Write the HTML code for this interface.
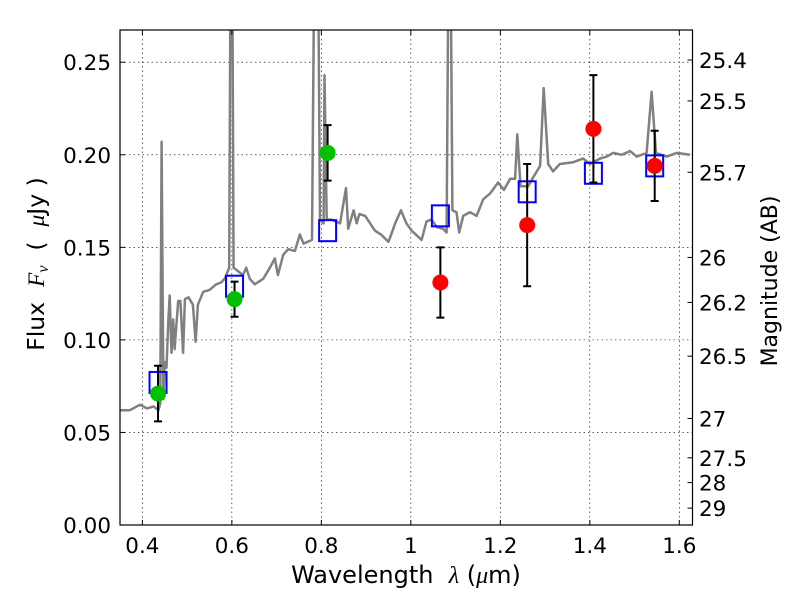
<!DOCTYPE html>
<html><head><meta charset="utf-8"><style>
body{margin:0;background:#fff;}
svg text{font-family:"DejaVu Sans","Liberation Sans",sans-serif;fill:#000;white-space:pre;}
</style></head><body>
<svg id="chart" width="800" height="600" xmlns="http://www.w3.org/2000/svg" xml:space="preserve">
<defs><clipPath id="clip"><rect x="120" y="30" width="572.5" height="495"/></clipPath></defs>
<g id="grid"></g>
<g id="spec" clip-path="url(#clip)"></g>
<g id="marks" clip-path="url(#clip)"></g>
<rect x="120" y="30" width="572.5" height="495" fill="none" stroke="#000" stroke-width="1.2"/>
<g id="axes"></g>
<text x="406" y="583" font-size="24" text-anchor="middle">Wavelength  <tspan font-style="italic" font-family="Liberation Serif, serif">λ</tspan> (<tspan font-style="italic" font-family="Liberation Serif, serif">μ</tspan>m)</text>
<text transform="translate(44,264) rotate(-90)" font-size="23.5" text-anchor="middle">Flux  <tspan font-style="italic" font-family="Liberation Serif, serif">F</tspan><tspan font-style="italic" font-size="16" dy="4" font-family="Liberation Serif, serif">ν</tspan><tspan dy="-4">  (  </tspan><tspan font-style="italic" font-family="Liberation Serif, serif">μ</tspan>Jy )</text>
<text transform="translate(777,281) rotate(-90)" font-size="22" text-anchor="middle">Magnitude (AB)</text>
</svg>
<script>
const specLam=[0.35,0.372,0.395,0.41,0.425,0.436,0.44,0.443,0.447,0.45,0.454,0.458,0.461,0.465,0.469,0.472,0.48,0.485,0.491,0.495,0.503,0.513,0.519,0.524,0.536,0.55,0.565,0.576,0.584,0.594,0.597,0.601,0.604,0.625,0.632,0.64,0.651,0.67,0.685,0.696,0.703,0.715,0.726,0.741,0.752,0.76,0.779,0.784,0.793,0.797,0.805,0.807,0.812,0.823,0.842,0.855,0.86,0.872,0.879,0.885,0.898,0.92,0.933,0.95,0.965,0.978,0.99,1.002,1.024,1.035,1.046,1.058,1.072,1.08,1.084,1.089,1.093,1.102,1.108,1.117,1.132,1.147,1.162,1.177,1.195,1.208,1.222,1.233,1.238,1.245,1.262,1.274,1.289,1.297,1.307,1.318,1.333,1.363,1.385,1.4,1.423,1.438,1.452,1.471,1.49,1.505,1.527,1.538,1.548,1.572,1.594,1.624];
const specFlux=[0.062,0.062,0.065,0.063,0.064,0.062,0.066,0.207,0.068,0.088,0.085,0.11,0.124,0.093,0.111,0.095,0.121,0.121,0.093,0.122,0.123,0.119,0.099,0.119,0.126,0.127,0.13,0.131,0.133,0.139,0.3,0.3,0.139,0.135,0.139,0.133,0.13,0.133,0.139,0.144,0.135,0.146,0.149,0.148,0.157,0.152,0.154,0.3,0.3,0.165,0.163,0.243,0.165,0.165,0.163,0.182,0.16,0.17,0.163,0.168,0.167,0.159,0.157,0.153,0.163,0.17,0.163,0.159,0.154,0.164,0.165,0.161,0.16,0.158,0.3,0.3,0.17,0.169,0.158,0.167,0.169,0.167,0.176,0.179,0.185,0.181,0.187,0.187,0.211,0.183,0.183,0.188,0.194,0.236,0.195,0.191,0.195,0.196,0.198,0.195,0.198,0.199,0.201,0.2,0.202,0.199,0.201,0.234,0.201,0.199,0.201,0.2];
const greenLam=[0.435,0.606,0.814];
const greenFlux=[0.071,0.122,0.201];
const greenErr=[0.015,0.0095,0.015];
const redLam=[1.066,1.26,1.408,1.545];
const redFlux=[0.131,0.162,0.214,0.194];
const redErr=[0.019,0.033,0.029,0.019];
const boxLam=[0.435,0.606,0.814,1.066,1.26,1.408,1.545];
const boxFlux=[0.077,0.129,0.159,0.167,0.180,0.190,0.194];
const xTicks=[0.4,0.6,0.8,1.0,1.2,1.4,1.6];
const xTickLabels=["0.4","0.6","0.8","1","1.2","1.4","1.6"];
const yTicks=[0,0.05,0.1,0.15,0.2,0.25];
const yTickLabels=["0.00","0.05","0.10","0.15","0.20","0.25"];
const magTicks=[25.4,25.5,25.7,26,26.2,26.5,27,27.5,28,29];
const magLabels=["25.4","25.5","25.7","26","26.2","26.5","27","27.5","28","29"];

const X0=120,X1=692.5,Y0=525,Y1=30,LMIN=0.35,LMAX=1.6295,FMIN=0,FMAX=0.2674;
const sx=v=>X0+(v-LMIN)/(LMAX-LMIN)*(X1-X0);
const sy=v=>Y0-(v-FMIN)/(FMAX-FMIN)*(Y0-Y1);
const NS="http://www.w3.org/2000/svg";
function mk(tag,attrs,parent){const e=document.createElementNS(NS,tag);for(const k in attrs)e.setAttribute(k,attrs[k]);parent.appendChild(e);return e;}
const grid=document.getElementById('grid'),axes=document.getElementById('axes'),spec=document.getElementById('spec'),marks=document.getElementById('marks');

xTicks.forEach((t,i)=>{const x=sx(t);
 const g=mk('line',{x1:x,x2:x,y1:Y1,y2:Y0,stroke:'#000','stroke-width':0.6,'stroke-dasharray':'1.5,3'},grid);
 
 
 const a=mk('line',{x1:x,x2:x,y1:Y0,y2:Y0-5,stroke:'#000'},axes);
 
 
 const b=mk('line',{x1:x,x2:x,y1:Y1,y2:Y1+5,stroke:'#000'},axes);
 
 
 const l=mk('text',{x:x,y:553,'font-size':21.5,'text-anchor':'middle'},axes);l.textContent=xTickLabels[i];
 
 
});
yTicks.forEach((t,i)=>{const y=sy(t);
 const g=mk('line',{x1:X0,x2:X1,y1:y,y2:y,stroke:'#000','stroke-width':0.6,'stroke-dasharray':'1.5,3'},grid);
 
 
 const a=mk('line',{x1:X0,x2:X0+5,y1:y,y2:y,stroke:'#000'},axes);
 
 
 const l=mk('text',{x:111,y:y+8,'font-size':21.5,'text-anchor':'end'},axes);l.textContent=yTickLabels[i];
 
 
});
magTicks.forEach((m,i)=>{const y=sy(Math.pow(10,(23.9-m)/2.5));
 const a=mk('line',{x1:X1,x2:X1-5,y1:y,y2:y,stroke:'#000'},axes);
 
 
 const l=mk('text',{x:699,y:y+8,'font-size':21.5},axes);l.textContent=magLabels[i];
 
 
});
const pts=specLam.map((l,i)=>sx(l).toFixed(1)+','+sy(specFlux[i]).toFixed(1)).join(' ');
const pl=mk('polyline',{points:pts,fill:'none',stroke:'#808080','stroke-width':2.5,'stroke-linejoin':'round'},spec);


boxLam.forEach((l,i)=>{const x=sx(l),y=sy(boxFlux[i]);
 const r=mk('rect',{x:x-8.5,y:y-10.5,width:17,height:21,fill:'none',stroke:'#0000ff','stroke-width':2},marks);
 
 
});
function pointsWithErr(lams,fl,er,col,name){lams.forEach((l,i)=>{const x=sx(l),y=sy(fl[i]),yt=sy(fl[i]+er[i]),yb=sy(fl[i]-er[i]);
 const e=mk('path',{d:`M${x},${yt}V${yb}M${x-4},${yt}H${x+4}M${x-4},${yb}H${x+4}`,stroke:'#000','stroke-width':2,fill:'none'},marks);
 
 
 const c=mk('circle',{cx:x,cy:y,r:8,fill:col},marks);
 
 
});}
pointsWithErr(greenLam,greenFlux,greenErr,'#00c000','hst-flux-point');
pointsWithErr(redLam,redFlux,redErr,'#ff0000','ir-flux-point');
</script>
</body></html>
